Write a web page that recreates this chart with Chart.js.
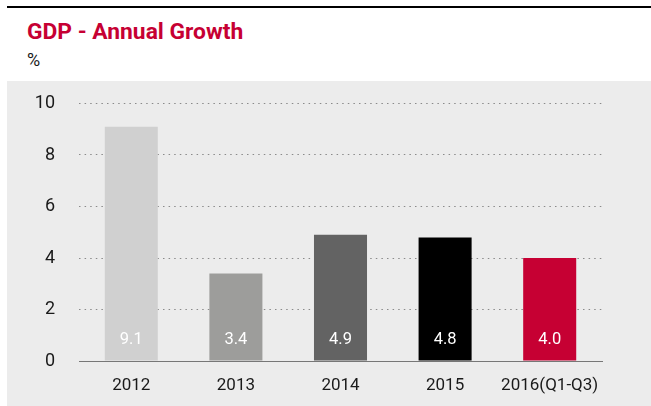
<!DOCTYPE html>
<html>
<head>
<meta charset="utf-8">
<script src="https://cdn.jsdelivr.net/npm/chart.js@4.4.0/dist/chart.umd.min.js"></script>
<style>
    html, body { margin: 0; padding: 0; background: #fff; }
    body { width: 651px; height: 406px; position: relative; overflow: hidden; font-family: Roboto, sans-serif; }
    #topLine { position: absolute; left: 7px; right: 0; top: 6px; height: 2px; background: #000; }
    #title { position: absolute; left: 27px; top: 21px; font-size: 22.8px; line-height: 22px; font-weight: bold; color: #c60033; white-space: nowrap; }
    #unit { position: absolute; left: 27px; top: 51px; font-size: 18px; line-height: 18px; color: #1a1a1a; }
    #panel { position: absolute; left: 7px; top: 81px; width: 644px; height: 325px; background: #ececec; }
    #chartWrap { position: absolute; left: 0; top: 0; width: 644px; height: 325px; }
</style>
</head>
<body>
<div id="topLine"></div>
<div id="title">GDP - Annual Growth</div>
<div id="unit">%</div>
<div id="panel">
    <div id="chartWrap"><canvas id="chart"></canvas></div>
</div>
<script>
// Chart data
const categories = ['2012', '2013', '2014', '2015', '2016(Q1-Q3)'];
const growth = [9.1, 3.4, 4.9, 4.8, 4.0];
const barColors = ['#d0d0d0', '#9d9d9b', '#636363', '#000000', '#c60033'];
const yTicks = [0, 2, 4, 6, 8, 10];

// Value labels inside the bars, near the baseline
const valueLabels = {
    id: 'valueLabels',
    afterDatasetsDraw(chart) {
        const ctx = chart.ctx;
        const yScale = chart.scales.y;
        const base = yScale.getPixelForValue(0);
        ctx.save();
        ctx.font = '16.5px Roboto, sans-serif';
        ctx.fillStyle = '#ffffff';
        ctx.textAlign = 'center';
        ctx.textBaseline = 'middle';
        chart.getDatasetMeta(0).data.forEach((bar, i) => {
            ctx.fillText(growth[i].toFixed(1), bar.x, base - 21);
        });
        ctx.restore();
    }
};

new Chart(document.getElementById('chart'), {
    type: 'bar',
    data: {
        labels: categories,
        datasets: [{
            data: growth,
            backgroundColor: barColors,
            borderWidth: 0,
            barPercentage: 0.507,
            categoryPercentage: 1
        }]
    },
    options: {
        responsive: true,
        maintainAspectRatio: false,
        animation: false,
        layout: { padding: { top: 22.5, right: 49, bottom: 0, left: 0 } },
        plugins: {
            legend: { display: false },
            tooltip: { enabled: false }
        },
        scales: {
            x: {
                grid: { display: false, drawTicks: false },
                border: { display: true, color: '#777777', width: 1 },
                ticks: {
                    color: '#1a1a1a',
                    font: { family: 'Roboto', size: 17 },
                    padding: 15,
                    maxRotation: 0,
                    autoSkip: false
                },
                afterFit(scale) { scale.height = 45; }
            },
            y: {
                min: 0,
                max: 10,
                afterBuildTicks(scale) { scale.ticks = yTicks.map(v => ({ value: v })); },
                grid: {
                    drawTicks: false,
                    color: (c) => (c.tick && c.tick.value === 0) ? 'rgba(0,0,0,0)' : '#8a8a8a',
                    lineWidth: 1
                },
                border: { display: false, dash: [1.5, 4.1] },
                ticks: {
                    color: '#1a1a1a',
                    font: { family: 'Roboto', size: 18 },
                    padding: 24
                },
                afterFit(scale) {
                    scale.width = 72;
                    scale.paddingTop = 0;
                    scale.paddingBottom = 0;
                }
            }
        }
    },
    plugins: [valueLabels]
});
</script>
</body>
</html>
